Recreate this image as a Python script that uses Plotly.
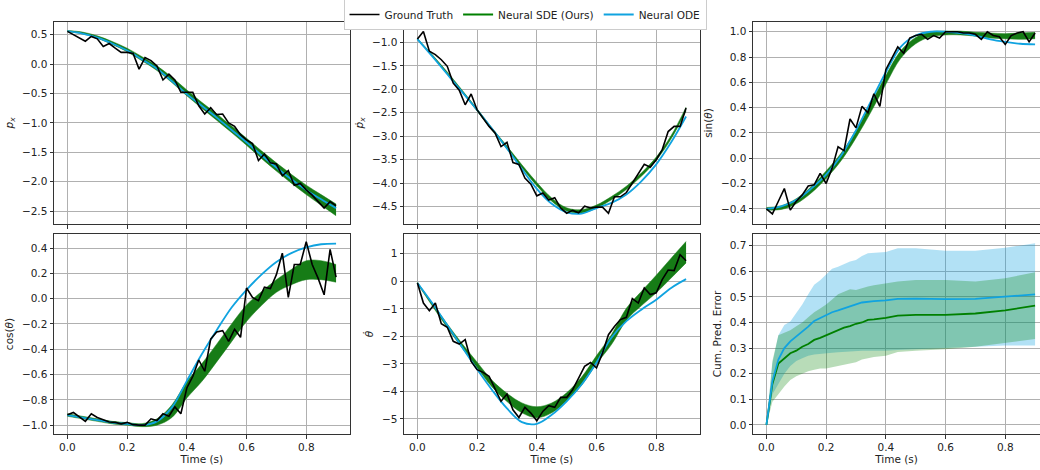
import plotly.graph_objects as go

# ---------------- data ----------------
T = [0.00, 0.02, 0.04, 0.06, 0.08, 0.10, 0.12, 0.14, 0.16, 0.18, 0.20, 0.22, 0.24, 0.26, 0.28, 0.30,
     0.32, 0.34, 0.36, 0.38, 0.40, 0.42, 0.44, 0.46, 0.48, 0.50, 0.52, 0.54, 0.56, 0.58, 0.60, 0.62,
     0.64, 0.66, 0.68, 0.70, 0.72, 0.74, 0.76, 0.78, 0.80, 0.82, 0.84, 0.86, 0.88, 0.90]
TS = [0.00, 0.05, 0.10, 0.15, 0.20, 0.25, 0.30, 0.35, 0.40, 0.45, 0.50, 0.55, 0.60, 0.65, 0.70,
      0.75, 0.80, 0.85, 0.90]
TE = [0.00, 0.02, 0.04, 0.06, 0.08, 0.10, 0.12, 0.14, 0.16, 0.18, 0.20, 0.22, 0.24, 0.26, 0.28,
      0.30, 0.32, 0.34, 0.36, 0.40, 0.44, 0.50, 0.60, 0.70, 0.80, 0.90]

# p_x
GT_PX = [0.557, 0.50, 0.45, 0.39, 0.47, 0.43, 0.30, 0.35, 0.27, 0.20, 0.20, 0.18, -0.085, 0.11, 0.06,
         -0.03, -0.27, -0.17, -0.27, -0.48, -0.48, -0.48, -0.71, -0.85, -0.74, -0.86, -0.85, -1.00,
         -1.06, -1.20, -1.29, -1.35, -1.64, -1.53, -1.68, -1.70, -1.90, -1.81, -2.06, -2.03, -2.14,
         -2.23, -2.34, -2.45, -2.34, -2.41]
ODE_PX = [0.56, 0.52, 0.45, 0.35, 0.23, 0.08, -0.08, -0.29, -0.51, -0.71, -0.91, -1.12, -1.33,
          -1.55, -1.76, -1.96, -2.14, -2.30, -2.45]
SDE_PX = [0.56, 0.53, 0.46, 0.36, 0.24, 0.09, -0.07, -0.27, -0.49, -0.70, -0.90, -1.11, -1.32,
          -1.54, -1.75, -1.95, -2.14, -2.31, -2.48]
SDE_PX_W = [0.01, 0.015, 0.02, 0.025, 0.03, 0.035, 0.04, 0.045, 0.05, 0.05, 0.055, 0.055, 0.06,
            0.065, 0.07, 0.075, 0.08, 0.09, 0.10]

# p_x dot
GT_VX = [-0.93, -0.77, -1.19, -1.26, -1.37, -1.51, -1.87, -2.02, -2.33, -2.10, -2.44, -2.61, -2.79,
         -2.93, -3.22, -3.13, -3.56, -3.60, -3.89, -4.02, -4.27, -4.21, -4.36, -4.31, -4.53, -4.64,
         -4.58, -4.63, -4.49, -4.53, -4.51, -4.51, -4.64, -4.29, -4.29, -4.20, -4.00, -3.79, -3.60,
         -3.66, -3.50, -3.29, -2.90, -2.79, -2.79, -2.40]
ODE_VX = [-0.93, -1.30, -1.68, -2.06, -2.44, -2.84, -3.26, -3.70, -4.12, -4.44, -4.62, -4.65,
          -4.53, -4.42, -4.24, -3.96, -3.60, -3.13, -2.58]
SDE_VX = [-0.93, -1.28, -1.65, -2.04, -2.44, -2.85, -3.24, -3.64, -4.02, -4.35, -4.56, -4.60,
          -4.50, -4.32, -4.10, -3.82, -3.48, -3.02, -2.42]
SDE_VX_W = [0.01, 0.015, 0.02, 0.02, 0.025, 0.025, 0.03, 0.03, 0.035, 0.035, 0.035, 0.035, 0.035,
            0.035, 0.035, 0.035, 0.035, 0.035, 0.04]

# sin(theta)
GT_SIN = [-0.40, -0.44, -0.34, -0.24, -0.41, -0.34, -0.29, -0.22, -0.21, -0.12, -0.20, -0.08, 0.09,
          0.06, 0.31, 0.24, 0.41, 0.36, 0.51, 0.41, 0.70, 0.79, 0.88, 0.83, 0.95, 0.97, 0.98, 0.94,
          0.97, 0.95, 1.00, 1.00, 1.00, 0.99, 0.99, 0.98, 0.94, 1.00, 0.97, 0.96, 0.90, 0.97, 0.99,
          1.00, 0.92, 0.99]
ODE_SIN = [-0.40, -0.38, -0.33, -0.24, -0.13, 0.02, 0.22, 0.45, 0.68, 0.88, 0.97, 1.00, 1.00,
           0.99, 0.97, 0.94, 0.92, 0.905, 0.90]
SDE_SIN = [-0.40, -0.39, -0.34, -0.25, -0.13, 0.01, 0.19, 0.40, 0.62, 0.82, 0.93, 0.98, 0.99,
           0.99, 0.98, 0.97, 0.965, 0.965, 0.97]
SDE_SIN_W = [0.01, 0.015, 0.02, 0.025, 0.03, 0.03, 0.03, 0.035, 0.035, 0.03, 0.025, 0.02, 0.015,
             0.015, 0.015, 0.02, 0.02, 0.025, 0.025]

# cos(theta)
GT_COS = [-0.917, -0.90, -0.935, -0.97, -0.91, -0.94, -0.957, -0.975, -0.978, -0.99, -0.978,
          -0.996, -1.0, -1.0, -0.95, -0.964, -0.91, -0.93, -0.856, -0.91, -0.706, -0.614, -0.485,
          -0.574, -0.32, -0.264, -0.253, -0.337, -0.242, -0.306, 0.084, 0.01, -0.016, 0.09, 0.08,
          0.19, 0.36, 0.01, 0.27, 0.27, 0.45, 0.27, 0.16, 0.03, 0.39, 0.17]
ODE_COS = [-0.92, -0.94, -0.96, -0.98, -0.99, -1.00, -0.97, -0.86, -0.65, -0.44, -0.25, -0.07,
           0.07, 0.19, 0.29, 0.36, 0.405, 0.43, 0.435]
SDE_COS = [-0.92, -0.94, -0.96, -0.98, -0.99, -1.00, -0.975, -0.89, -0.72, -0.585, -0.43, -0.27,
           -0.115, 0.00, 0.10, 0.17, 0.225, 0.225, 0.20]
SDE_COS_W = [0.01, 0.01, 0.01, 0.01, 0.01, 0.012, 0.025, 0.05, 0.065, 0.07, 0.07, 0.07, 0.065,
             0.055, 0.05, 0.06, 0.075, 0.075, 0.07]

# theta dot
GT_W = [-0.06, -0.79, -1.07, -0.79, -1.54, -1.67, -2.18, -2.28, -2.12, -2.91, -3.21, -3.31, -3.45,
        -3.88, -4.36, -4.10, -4.67, -4.95, -4.58, -4.79, -5.07, -4.73, -4.52, -4.58, -4.22, -4.22,
        -3.94, -3.52, -3.09, -2.95, -3.15, -2.61, -1.94, -1.64, -1.39, -1.31, -0.63, -0.79, -0.24,
        -0.48, -0.42, 0.06, 0.41, 0.39, 0.97, 0.75]
ODE_W = [-0.06, -0.80, -1.60, -2.40, -3.20, -3.95, -4.62, -5.12, -5.18, -4.85, -4.36, -3.75,
         -2.95, -2.05, -1.45, -1.03, -0.67, -0.24, 0.08]
SDE_W = [-0.06, -0.85, -1.62, -2.35, -3.04, -3.72, -4.22, -4.60, -4.76, -4.60, -4.20, -3.63,
         -2.85, -2.12, -1.20, -0.63, -0.10, 0.48, 1.06]
SDE_W_W = [0.03, 0.05, 0.07, 0.08, 0.10, 0.12, 0.15, 0.18, 0.20, 0.18, 0.15, 0.15, 0.15, 0.18,
           0.22, 0.26, 0.32, 0.36, 0.39]

# cumulative prediction error
ODE_ERR = [0, 0.17, 0.255, 0.30, 0.326, 0.345, 0.367, 0.384, 0.406, 0.417, 0.43, 0.44, 0.447,
           0.456, 0.464, 0.471, 0.478, 0.482, 0.483, 0.486, 0.492, 0.493, 0.491, 0.492, 0.50, 0.51]
ODE_HI = [0, 0.24, 0.35, 0.39, 0.404, 0.436, 0.47, 0.51, 0.547, 0.565, 0.586, 0.61, 0.618, 0.628,
          0.638, 0.644, 0.66, 0.67, 0.672, 0.675, 0.69, 0.69, 0.68, 0.68, 0.692, 0.709]
ODE_LO = [0, 0.12, 0.16, 0.20, 0.23, 0.25, 0.26, 0.27, 0.275, 0.278, 0.28, 0.282, 0.284, 0.286,
          0.288, 0.29, 0.29, 0.29, 0.29, 0.29, 0.293, 0.295, 0.30, 0.305, 0.31, 0.31]
SDE_ERR = [0, 0.16, 0.24, 0.26, 0.28, 0.29, 0.305, 0.316, 0.332, 0.34, 0.35, 0.362, 0.372, 0.38,
           0.386, 0.395, 0.40, 0.41, 0.412, 0.418, 0.427, 0.43, 0.43, 0.435, 0.447, 0.466]
SDE_HI = [0, 0.25, 0.35, 0.36, 0.37, 0.385, 0.40, 0.42, 0.44, 0.455, 0.47, 0.49, 0.51, 0.52,
          0.53, 0.527, 0.535, 0.54, 0.545, 0.553, 0.56, 0.566, 0.566, 0.56, 0.573, 0.596]
SDE_LO = [0, 0.09, 0.12, 0.15, 0.175, 0.19, 0.20, 0.21, 0.215, 0.22, 0.22, 0.225, 0.23, 0.235,
          0.24, 0.245, 0.255, 0.26, 0.265, 0.27, 0.285, 0.29, 0.295, 0.305, 0.32, 0.335]

Y_LABELS = ["<i>p</i><sub><i>x</i></sub>", "<i>\u1e57</i><sub><i>x</i></sub>", "sin(<i>θ</i>)",
            "cos(<i>θ</i>)", "<i>θ\u0307</i>", "Cum. Pred. Error"]
X_TICKS = [0.0, 0.2, 0.4, 0.6, 0.8]

# ---------------- style ----------------
BLACK = "black"
GREEN = "#008000"
BAND_GREEN = "#167c16"
BLUE = "#10a3e0"
FONT = "DejaVu Sans"
FS = 10.5

fig = go.Figure()


def ax(i):
    return ("x" if i == 1 else f"x{i}"), ("y" if i == 1 else f"y{i}")


def add_band(i, t, mean, width, color):
    xa, ya = ax(i)
    lo = [m - w for m, w in zip(mean, width)]
    hi = [m + w for m, w in zip(mean, width)]
    fig.add_trace(go.Scatter(x=t, y=lo, mode="lines", line=dict(width=0.5, color=color, shape="spline"),
                             showlegend=False, hoverinfo="skip", xaxis=xa, yaxis=ya))
    fig.add_trace(go.Scatter(x=t, y=hi, mode="lines", line=dict(width=0.5, color=color, shape="spline"),
                             fill="tonexty", fillcolor=color, showlegend=False, hoverinfo="skip",
                             xaxis=xa, yaxis=ya))


panels = [
    (1, GT_PX, ODE_PX, SDE_PX, SDE_PX_W),
    (2, GT_VX, ODE_VX, SDE_VX, SDE_VX_W),
    (3, GT_SIN, ODE_SIN, SDE_SIN, SDE_SIN_W),
    (4, GT_COS, ODE_COS, SDE_COS, SDE_COS_W),
    (5, GT_W, ODE_W, SDE_W, SDE_W_W),
]
for i, gt, ode, sde, w in panels:
    xa, ya = ax(i)
    add_band(i, TS, sde, w, BAND_GREEN)
    fig.add_trace(go.Scatter(x=TS, y=ode, mode="lines", line=dict(color=BLUE, width=1.8, shape="spline"),
                             showlegend=False, xaxis=xa, yaxis=ya))
    fig.add_trace(go.Scatter(x=T, y=gt, mode="lines", line=dict(color=BLACK, width=1.6),
                             name="Ground Truth", showlegend=(i == 1), legendrank=1, xaxis=xa, yaxis=ya))

# error panel
xa, ya = ax(6)
fig.add_trace(go.Scatter(x=TE, y=ODE_LO, mode="lines", line=dict(width=0), showlegend=False,
                         hoverinfo="skip", xaxis=xa, yaxis=ya))
fig.add_trace(go.Scatter(x=TE, y=ODE_HI, mode="lines", line=dict(width=0), fill="tonexty",
                         fillcolor="rgba(16,163,224,0.32)", showlegend=False, hoverinfo="skip",
                         xaxis=xa, yaxis=ya))
fig.add_trace(go.Scatter(x=TE, y=SDE_LO, mode="lines", line=dict(width=0), showlegend=False,
                         hoverinfo="skip", xaxis=xa, yaxis=ya))
fig.add_trace(go.Scatter(x=TE, y=SDE_HI, mode="lines", line=dict(width=0), fill="tonexty",
                         fillcolor="rgba(0,128,0,0.28)", showlegend=False, hoverinfo="skip",
                         xaxis=xa, yaxis=ya))
fig.add_trace(go.Scatter(x=TE, y=SDE_ERR, mode="lines", line=dict(color=GREEN, width=1.8),
                         name="Neural SDE (Ours)", legendrank=2, xaxis=xa, yaxis=ya))
fig.add_trace(go.Scatter(x=TE, y=ODE_ERR, mode="lines", line=dict(color=BLUE, width=1.8),
                         name="Neural ODE", legendrank=3, xaxis=xa, yaxis=ya))

# ---------------- layout ----------------
L, R, TOP, B = 54, 0, 22, 36
W, H = 1040, 470
PW, PH = W - L - R, H - TOP - B
col_px = [(54, 349.5), (404, 699.5), (753, 1040)]
row_px = [(22, 224), (234, 434)]


def xdom(c):
    a, b = col_px[c]
    return [(a - L) / PW, (b - L) / PW]


def ydom(r):
    a, b = row_px[r]
    return [(H - B - b) / PH, (H - B - a) / PH]


y_ranges = [[-2.72, 0.716], [-4.87, -0.566], [-0.52, 1.077],
            [-1.07, 0.511], [-5.55, 1.72], [-0.0355, 0.7455]]
y_ticks = [[-2.5, -2.0, -1.5, -1.0, -0.5, 0.0, 0.5],
           [-4.5, -4.0, -3.5, -3.0, -2.5, -2.0, -1.5, -1.0],
           [-0.4, -0.2, 0.0, 0.2, 0.4, 0.6, 0.8, 1.0],
           [-1.0, -0.8, -0.6, -0.4, -0.2, 0.0, 0.2, 0.4],
           [-5, -4, -3, -2, -1, 0, 1],
           [0.0, 0.1, 0.2, 0.3, 0.4, 0.5, 0.6, 0.7]]
y_fmt = [".1f", ".1f", ".1f", ".1f", "d", ".1f"]

axis_common = dict(showgrid=True, gridcolor="#b0b0b0", gridwidth=0.8, zeroline=False,
                   showline=True, linecolor="#333", linewidth=1, ticks="outside", ticklen=3.5,
                   tickwidth=0.8, tickcolor="#333", tickfont=dict(family=FONT, size=FS, color="#222"))

layout = {}
for i in range(1, 7):
    r = 0 if i <= 3 else 1
    c = (i - 1) % 3
    xname = "xaxis" if i == 1 else f"xaxis{i}"
    yname = "yaxis" if i == 1 else f"yaxis{i}"
    xr = [-0.045, 0.945] if c < 2 else [-0.045, -0.045 + (1040 - 753) / 298.5]
    xa_d = dict(axis_common, domain=xdom(c), range=xr, tickvals=X_TICKS, tickformat=".1f",
                anchor=("y" if i == 1 else f"y{i}"), mirror=True, showticklabels=(r == 1))
    if r == 1:
        xa_d["title"] = dict(text="Time (s)", font=dict(family=FONT, size=FS, color="#222"), standoff=2)
    ya_d = dict(axis_common, domain=ydom(r), range=y_ranges[i - 1], tickvals=y_ticks[i - 1],
                tickformat=y_fmt[i - 1], anchor=("x" if i == 1 else f"x{i}"), mirror=(c < 2),
                title=dict(text=Y_LABELS[i - 1], font=dict(family=FONT, size=FS, color="#222"), standoff=6))
    layout[xname] = xa_d
    layout[yname] = ya_d

fig.update_layout(**layout)
fig.update_layout(
    width=W, height=H, autosize=False,
    margin=dict(l=L, r=R, t=TOP, b=B, autoexpand=False),
    paper_bgcolor="white", plot_bgcolor="white",
    font=dict(family=FONT, size=FS, color="#222"),
    legend=dict(orientation="h", x=0.4777, xanchor="center", y=(H - B + 1) / PH, yanchor="top",
                bgcolor="white", bordercolor="#cccccc", borderwidth=1, traceorder="normal",
                font=dict(family=FONT, size=FS, color="#222"), tracegroupgap=0, itemwidth=30),
)

fig.write_html("out.html", config={"displayModeBar": False},
               post_script="document.body.style.margin='0';document.body.style.overflow='hidden';")
